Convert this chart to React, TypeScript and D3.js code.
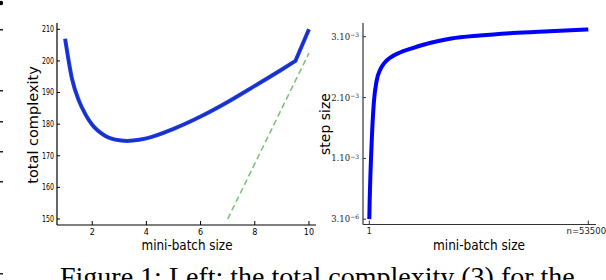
import React from 'react';
import * as d3 from 'd3';

// left panel: total complexity vs mini-batch size (smooth part, then the kink to 10)
const batchSizes = [1, 1.25, 1.5, 1.75, 2, 2.5, 3, 3.3, 3.5, 4, 5, 6, 7, 8, 9, 9.5];
const complexity = [207, 194.5, 187.6, 183.1, 179.8, 176.2, 174.9, 174.7, 174.8, 175.5, 178.5, 182.4, 187.0, 192.1, 197.3, 200.0];
const kinkX = [9.5, 10];
const kinkY = [200.0, 210.0];
const boundX = [7, 10];
const boundY = [150, 202.5];
const leftXTicks = [2, 4, 6, 8, 10];
const leftYTicks = [150, 160, 170, 180, 190, 200, 210];

// right panel: step size vs mini-batch size
const batchSizesR = [1, 100, 250, 415, 700, 1150, 1800, 2600, 3700, 5000, 7500, 10000, 15000, 20000, 27000, 35000, 44000, 53500];
const stepSize = [0.000003, 0.00033, 0.00067, 0.001, 0.00145, 0.00195, 0.00228, 0.00245, 0.00257, 0.00265, 0.00274, 0.0028, 0.0029, 0.00297, 0.00302, 0.00306, 0.00309, 0.00312];
const rightXTicks = [1, 53500];
const rightXLabels = ['1', 'n=53500'];
const rightYTicks = [0.000003, 0.001, 0.002, 0.003];
const rightYMant = ['3.10', '1.10', '2.10', '3.10'];
const rightYExp = ['\u22126', '\u22123', '\u22123', '\u22123'];

const caption = 'Figure 1: Left: the total complexity (3) for the';
const pageMarks = [29, 90, 121, 151, 181, 273];

const sans = 'DejaVu Sans, sans-serif';

export default function App() {
  // left scales
  const xL = d3.scaleLinear().domain([0.7, 10.26]).range([57, 316]);
  const yL = d3.scaleLinear().domain([148.1, 212]).range([225, 23]);
  const lineL = d3
    .line<number>()
    .x((d, i) => xL(batchSizes[i]))
    .y((d) => yL(d))
    .curve(d3.curveMonotoneX);
  const kinkLine = d3
    .line<number>()
    .x((d, i) => xL(kinkX[i]))
    .y((d) => yL(d));
  const boundLine = d3
    .line<number>()
    .x((d, i) => xL(boundX[i]))
    .y((d) => yL(d));
  const curvePath = (lineL(complexity) || '') + (kinkLine(kinkY) || '').replace(/^M/, 'L');

  // right scales
  const xR = d3.scaleLinear().domain([-1538, 55381]).range([363, 596]);
  const yR = d3.scaleLinear().domain([-0.000085, 0.003225]).range([224.5, 23]);
  const lineR = d3
    .line<number>()
    .x((d, i) => xR(batchSizesR[i]))
    .y((d) => yR(d))
    .curve(d3.curveMonotoneX);

  return (
    <svg width={606} height={280} style={{ position: 'absolute', left: 0, top: 0, background: '#fff' }}>
      <rect width={606} height={280} fill="#fff" />
      {/* stray marks from the page */}
      <circle cx={1} cy={3} r={2.2} fill="#000" />
      {pageMarks.map((y) => (
        <rect key={y} x={0} y={y} width={3} height={1.5} fill="#222" />
      ))}

      {/* ---- left panel ---- */}
      <path d={boundLine(boundY) || ''} fill="none" stroke="#7cc47c" strokeWidth={1.6} strokeDasharray="6,3.5" />
      <path d={curvePath} fill="none" stroke="#1d3be6" strokeWidth={4} strokeLinejoin="miter" />
      <path d={curvePath} fill="none" stroke="#1a2a9c" strokeWidth={1.4} opacity={0.7} />
      <line x1={57} x2={57} y1={23} y2={225} stroke="#000" strokeWidth={1.2} />
      <line x1={57} x2={316} y1={225} y2={225} stroke="#000" strokeWidth={1.2} />
      {leftYTicks.map((t) => (
        <g key={t}>
          <line x1={57} x2={60} y1={yL(t)} y2={yL(t)} stroke="#000" strokeWidth={1} />
          <text x={54} y={yL(t)} dy="0.35em" textAnchor="end" fontFamily={sans} fontSize={8} textLength={12} lengthAdjust="spacingAndGlyphs">
            {t}
          </text>
        </g>
      ))}
      {leftXTicks.map((t) => (
        <g key={t}>
          <line x1={xL(t)} x2={xL(t)} y1={225} y2={221} stroke="#000" strokeWidth={1} />
          <text x={xL(t)} y={235} textAnchor="middle" fontFamily={sans} fontSize={8}>
            {t}
          </text>
        </g>
      ))}
      <text transform="translate(38,125) rotate(-90)" textAnchor="middle" fontFamily={sans} fontSize={14.5}>
        total complexity
      </text>
      <text x={187} y={250} textAnchor="middle" fontFamily={sans} fontSize={14} textLength={91} lengthAdjust="spacingAndGlyphs">
        mini-batch size
      </text>

      {/* ---- right panel ---- */}
      <path d={lineR(stepSize) || ''} fill="none" stroke="#0000ff" strokeWidth={4} />
      <line x1={363} x2={363} y1={23} y2={224.5} stroke="#333" strokeWidth={1.2} />
      <line x1={363} x2={596} y1={224.5} y2={224.5} stroke="#333" strokeWidth={1.2} />
      {rightYTicks.map((t, i) => (
        <g key={t}>
          <line x1={363} x2={366} y1={yR(t)} y2={yR(t)} stroke="#333" strokeWidth={1} />
          <text x={359} y={yR(t)} dy="0.35em" textAnchor="end" fontFamily="DejaVu Serif, serif" fontSize={8.5} fill="#222">
            {rightYMant[i]}
            <tspan fontSize={6} dy="-0.45em">{rightYExp[i]}</tspan>
          </text>
        </g>
      ))}
      {rightXTicks.map((t, i) => (
        <g key={t}>
          <line x1={xR(t)} x2={xR(t)} y1={224.5} y2={220.5} stroke="#333" strokeWidth={1} />
          <text x={xR(t) + (i === 1 ? -2 : 0)} y={234} textAnchor="middle" fontFamily={sans} fontSize={8.5} fill="#222">
            {rightXLabels[i]}
          </text>
        </g>
      ))}
      <text transform="translate(330,124) rotate(-90)" textAnchor="middle" fontFamily={sans} fontSize={14}>
        step size
      </text>
      <text x={479} y={250} textAnchor="middle" fontFamily={sans} fontSize={14} textLength={92} lengthAdjust="spacingAndGlyphs">
        mini-batch size
      </text>

      {/* caption, cut by the crop */}
      <text x={60} y={286} fontFamily="Liberation Serif, serif" fontSize={28}>
        {caption}
      </text>
    </svg>
  );
}
